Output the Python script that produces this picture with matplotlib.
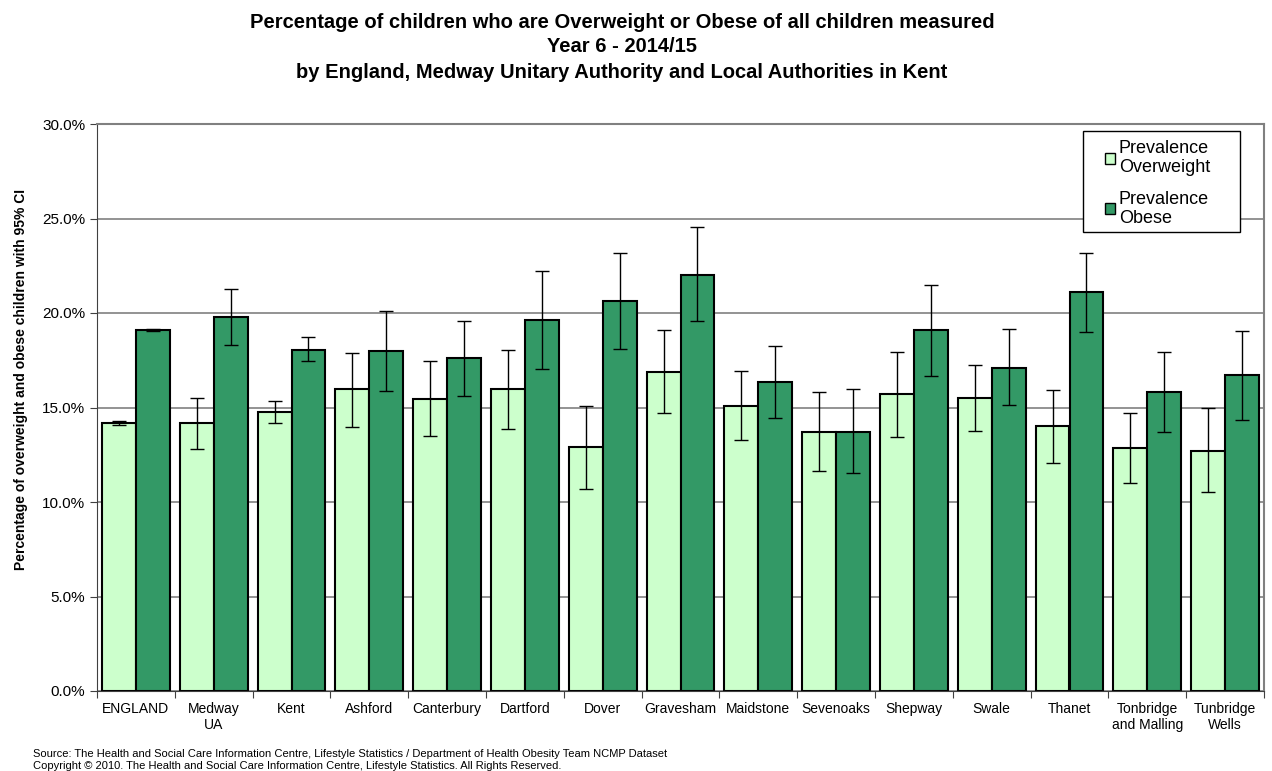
import matplotlib
matplotlib.use("Agg")
import matplotlib.pyplot as plt
import numpy as np
from matplotlib.ticker import FuncFormatter, MultipleLocator
from matplotlib.patches import Patch, Rectangle

plt.rcParams['font.family'] = ['Liberation Sans', 'DejaVu Sans']

categories = ["ENGLAND", "Medway\nUA", "Kent", "Ashford", "Canterbury", "Dartford",
              "Dover", "Gravesham", "Maidstone", "Sevenoaks", "Shepway", "Swale",
              "Thanet", "Tonbridge\nand Malling", "Tunbridge\nWells"]

overweight = [14.2, 14.16, 14.78, 15.96, 15.45, 15.98, 12.91, 16.88, 15.10, 13.72, 15.70, 15.52, 14.02, 12.86, 12.71]
overweight_lo = [14.1, 12.79, 14.16, 13.98, 13.47, 13.85, 10.70, 14.73, 13.30, 11.66, 13.42, 13.76, 12.08, 10.99, 10.53]
overweight_hi = [14.3, 15.49, 15.36, 17.90, 17.44, 18.04, 15.06, 19.10, 16.95, 15.84, 17.95, 17.23, 15.94, 14.71, 14.96]

obese = [19.12, 19.80, 18.05, 18.00, 17.60, 19.61, 20.63, 22.03, 16.37, 13.72, 19.08, 17.10, 21.13, 15.84, 16.70]
obese_lo = [19.07, 18.30, 17.46, 15.89, 15.59, 17.04, 18.08, 19.56, 14.43, 11.53, 16.67, 15.12, 19.01, 13.70, 14.34]
obese_hi = [19.17, 21.29, 18.72, 20.09, 19.59, 22.20, 23.16, 24.53, 18.27, 16.00, 21.46, 19.14, 23.20, 17.92, 19.06]

series_labels = ["Prevalence\nOverweight", "Prevalence\nObese"]
c_ow = "#CCFFCC"
c_ob = "#339966"

W, H = 1272, 771
fig = plt.figure(figsize=(W/100, H/100), dpi=100)
ax = fig.add_axes([97/W, 1-691/H, (1264-97)/W, (691-124)/H])

x = np.arange(len(categories))
w = 0.437
ow = np.array(overweight); ob = np.array(obese)
ow_err = [ow - np.array(overweight_lo), np.array(overweight_hi) - ow]
ob_err = [ob - np.array(obese_lo), np.array(obese_hi) - ob]

ax.bar(x - w/2, ow, w, color=c_ow, edgecolor='black', linewidth=1.5, zorder=2)
ax.bar(x + w/2, ob, w, color=c_ob, edgecolor='black', linewidth=1.5, zorder=2)
ax.errorbar(x - w/2, ow, yerr=ow_err, fmt='none', ecolor='black', elinewidth=1, capsize=5, capthick=1, zorder=3)
ax.errorbar(x + w/2, ob, yerr=ob_err, fmt='none', ecolor='black', elinewidth=1, capsize=5, capthick=1, zorder=3)

ax.set_xlim(-0.5, len(categories) - 0.5)
ax.set_ylim(0, 30)
ax.yaxis.set_major_locator(MultipleLocator(5))
ax.yaxis.set_major_formatter(FuncFormatter(lambda v, p: f"{v:.1f}%"))
ax.grid(axis='y', color='#808080', linewidth=1.2, zorder=0)
ax.set_axisbelow(True)

ax.set_xticks(np.arange(-0.5, len(categories), 1.0), minor=False)
ax.set_xticklabels([])
ax.set_xticks(x, minor=True)
ax.set_xticklabels(categories, minor=True, fontsize=10)
ax.tick_params(axis='x', which='minor', length=0, pad=8)
ax.tick_params(axis='x', which='major', length=5, direction='out', color='#404040')
ax.tick_params(axis='y', length=5, direction='out', labelsize=11, color='#404040')

for s in ['top', 'right']:
    ax.spines[s].set_color('#808080')
    ax.spines[s].set_linewidth(1.5)
ax.spines['left'].set_color('#404040')
ax.spines['bottom'].set_color('#404040')

ax.set_ylabel("Percentage of overweight and obese children with 95% CI", fontsize=10, fontweight='bold')
ax.yaxis.set_label_coords(-(97-28)/1167, (691-380)/567)

# legend box drawn manually to match the reference proportions
x0, x1, y0, y1 = 1083, 1240, 131, 232
fig.patches.append(Rectangle((x0/W, 1-y1/H), (x1-x0)/W, (y1-y0)/H, transform=fig.transFigure,
                             facecolor='white', edgecolor='black', linewidth=1, zorder=5))
handles = [Patch(facecolor=c_ow, edgecolor='black', linewidth=1), Patch(facecolor=c_ob, edgecolor='black', linewidth=1)]
leg = fig.legend(handles, series_labels, loc='upper left', bbox_to_anchor=(1100/W, 1-135/H),
                 fontsize=13, frameon=False, handlelength=0.55, handleheight=0.55, handletextpad=0.2,
                 labelspacing=0.83, borderpad=0.3, borderaxespad=0)
leg.set_zorder(6)
for t in leg.get_texts():
    t.set_linespacing(1.12)

fig.text(622/W, 1-22/H, "Percentage of children who are Overweight or Obese of all children measured",
         ha='center', va='center', fontsize=14.5, fontweight='bold')
fig.text(622/W, 1-47/H, "Year 6 - 2014/15", ha='center', va='center', fontsize=14.5, fontweight='bold')
fig.text(622/W, 1-72/H, "by England, Medway Unitary Authority and Local Authorities in Kent",
         ha='center', va='center', fontsize=14.5, fontweight='bold')

fig.text(33/W, 1-754/H, "Source: The Health and Social Care Information Centre, Lifestyle Statistics / Department of Health Obesity Team NCMP Dataset",
         ha='left', va='center', fontsize=8)
fig.text(33/W, 1-766/H, "Copyright \u00a9 2010. The Health and Social Care Information Centre, Lifestyle Statistics. All Rights Reserved.",
         ha='left', va='center', fontsize=8)

fig.savefig("out.png", dpi=100)
